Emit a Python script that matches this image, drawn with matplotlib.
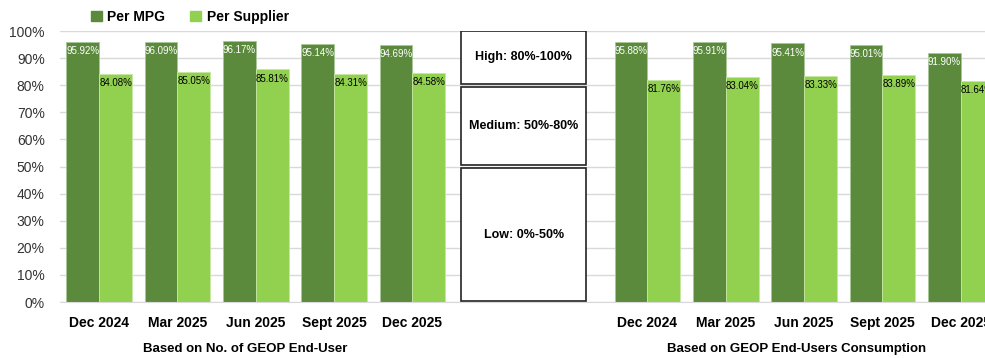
import matplotlib; matplotlib.use('Agg')
import matplotlib.pyplot as plt
from matplotlib.patches import Rectangle, Patch
import numpy as np

plt.rcParams['font.family'] = ['Liberation Sans', 'DejaVu Sans']

periods = ['Dec 2024', 'Mar 2025', 'Jun 2025', 'Sept 2025', 'Dec 2025']
mpg_users = [95.92, 96.09, 96.17, 95.14, 94.69]
sup_users = [84.08, 85.05, 85.81, 84.31, 84.58]
mpg_cons = [95.88, 95.91, 95.41, 95.01, 91.90]
sup_cons = [81.76, 83.04, 83.33, 83.89, 81.64]
group_titles = ['Based on No. of GEOP End-User', 'Based on GEOP End-Users Consumption']
bands = [('High: 80%-100%', 80, 100), ('Medium: 50%-80%', 50, 80), ('Low: 0%-50%', 0, 50)]

dark, light = '#5B8A3C', '#92D050'
fig = plt.figure(figsize=(9.85, 3.58), dpi=100)
ax = fig.add_axes([60/985, 1-302/358, 940/985, 271/358])

w = 0.42
x_left = np.arange(5)
x_right = np.arange(5) + 7
for xs, m, s in [(x_left, mpg_users, sup_users), (x_right, mpg_cons, sup_cons)]:
    ax.bar(xs - w/2, m, w, color=dark, edgecolor='#A9C79A', linewidth=0.6, zorder=2)
    ax.bar(xs + w/2, s, w, color=light, edgecolor='#C6E6A0', linewidth=0.6, zorder=2)
    for xi, v in zip(xs, m):
        ax.text(xi - w, v - 1.5, f'{v:.2f}%', color='white', fontsize=7, ha='left', va='top', zorder=3)
    for xi, v in zip(xs, s):
        ax.text(xi, v - 1.5, f'{v:.2f}%', color='black', fontsize=7, ha='left', va='top', zorder=3)

# band boxes in the gap
bx0, bx1 = 4.62, 6.22
for label, lo, hi in bands:
    y0 = lo + (0.2 if lo == 0 else 0.6)
    y1 = hi - (0 if hi == 100 else 0.6)
    ax.add_patch(Rectangle((bx0, y0), bx1 - bx0, y1 - y0, facecolor='white',
                           edgecolor='#222222', linewidth=1.2, zorder=4))
    ax.text((bx0 + bx1) / 2, (y0 + y1) / 2, label, ha='center', va='center',
            fontsize=9, fontweight='bold', zorder=5)

ax.set_xlim(-0.5, 11.5)
ax.set_ylim(0, 100)
ax.set_yticks(range(0, 101, 10))
ax.set_yticklabels([f'{t}%' for t in range(0, 101, 10)], fontsize=10, color='#333333')
ax.set_xticks(list(x_left) + list(x_right))
ax.set_xticklabels(periods + periods, fontsize=10, fontweight='bold')
ax.tick_params(length=0, pad=10)
ax.tick_params(axis='y', pad=11)
ax.grid(axis='y', color='#D9D9D9', linewidth=1, zorder=0)
for sp in ['top', 'right', 'left']:
    ax.spines[sp].set_visible(False)
ax.spines['bottom'].set_color('#D9D9D9')

for xc, t in [(1.87, group_titles[0]), (8.9, group_titles[1])]:
    ax.text(xc, -17.3, t, ha='center', va='center', fontsize=9.5, fontweight='bold',
            transform=ax.transData, clip_on=False)

handles = [Patch(color=dark, label='Per MPG'), Patch(color=light, label='Per Supplier')]
fig.legend(handles=handles, loc='center left', bbox_to_anchor=(85/985, 1-17/358), ncol=2,
           frameon=False, prop={'weight': 'bold', 'size': 10}, handlelength=0.8,
           handleheight=0.8, handletextpad=0.4, columnspacing=1.8, borderaxespad=0)

fig.savefig('out.png', dpi=100)
